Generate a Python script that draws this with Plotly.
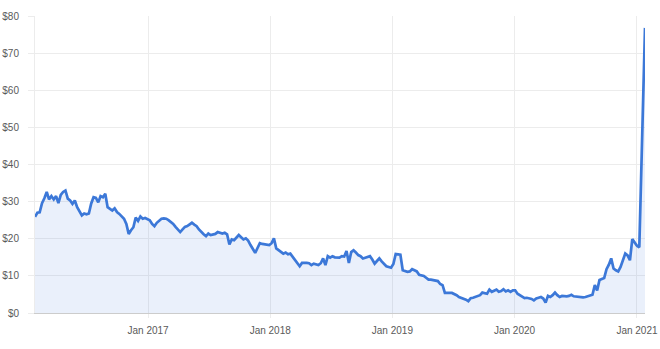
import pandas as pd
import plotly.graph_objects as go

# Weekly closing prices (Fridays), starting 2016-01-29
start_date = "2016-01-29"
final_date = "2021-01-25"
final_value = 76.8

vals_2016 = [25.9, 27.0, 27.1, 29.6, 30.9, 32.6, 30.6, 31.5, 30.6, 31.5,
             29.6, 31.8, 32.6, 33.0, 30.8, 30.3, 29.4, 30.3, 28.5, 27.4,
             26.3, 26.8, 26.6, 26.8, 29.5, 31.2, 31.0, 29.8, 31.5, 31.2,
             32.1, 28.5, 28.1, 27.6, 28.2, 27.2, 26.7, 26.0, 25.4, 24.0,
             21.3, 22.3, 23.1, 25.7, 24.8, 26.0, 25.4, 25.6, 25.2]
vals_2017 = [25.0, 24.0, 23.4, 24.3, 24.8, 25.4, 25.5, 25.4, 25.0, 24.5,
             24.0, 23.2, 22.5, 21.8, 22.5, 23.2, 23.4, 23.9, 24.3, 23.8,
             23.4, 22.5, 21.8, 21.2, 20.7, 21.4, 21.0, 21.2, 21.3, 21.8,
             21.6, 21.4, 21.6, 21.2, 18.5, 19.8, 19.6, 20.3, 21.0, 20.4,
             19.8, 20.1, 19.5, 18.3, 17.2, 16.2, 17.5, 18.8, 18.6, 18.5,
             18.4, 18.3]
vals_2018 = [18.8, 20.1, 17.4, 17.0, 16.5, 16.0, 16.3, 15.8, 16.0, 15.1,
             14.2, 13.2, 12.6, 13.5, 13.6, 13.5, 13.4, 12.9, 13.3, 13.0,
             12.9, 13.4, 14.7, 12.9, 15.3, 14.9, 15.3, 15.0, 14.9, 14.9,
             15.3, 15.2, 16.7, 13.5, 16.4, 16.9, 16.3, 15.6, 15.3, 14.7,
             14.9, 15.0, 15.3, 14.4, 13.3, 14.0, 14.7, 13.9, 13.3, 12.6,
             12.4, 12.2]
vals_2019 = [13.2, 15.9, 15.8, 15.7, 11.5, 11.3, 11.1, 11.2, 11.8, 11.5,
             11.2, 10.3, 10.1, 10.0, 9.5, 9.0, 9.0, 8.9, 8.7, 8.6,
             7.8, 7.5, 5.4, 5.5, 5.4, 5.4, 5.2, 4.8, 4.3, 4.1,
             3.9, 3.6, 3.2, 4.0, 4.1, 4.3, 4.6, 4.8, 5.5, 5.3,
             5.2, 6.3, 5.7, 6.0, 6.3, 5.7, 5.9, 6.4, 5.8, 6.1,
             5.7, 6.1]
vals_2020 = [6.1, 5.2, 4.8, 4.6, 4.0, 4.1, 4.0, 3.8, 3.4, 3.9,
             4.1, 4.3, 3.9, 2.8, 4.6, 4.3, 4.8, 5.5, 4.8, 4.3,
             4.6, 4.5, 4.5, 4.6, 4.9, 4.5, 4.4, 4.3, 4.3, 4.2,
             4.3, 4.5, 4.7, 4.9, 7.5, 6.1, 8.9, 9.1, 9.4, 11.8,
             13.0, 14.7, 12.0, 11.5, 11.2, 12.4, 14.2, 16.0, 15.5, 14.2,
             19.9, 18.8, 18.1, 17.7]

y_ticks = [0, 10, 20, 30, 40, 50, 60, 70, 80]
y_tick_labels = ["$0", "$10", "$20", "$30", "$40", "$50", "$60", "$70", "$80"]
x_ticks = ["2017-01-01", "2018-01-01", "2019-01-01", "2020-01-01", "2021-01-01"]
x_tick_labels = ["Jan 2017", "Jan 2018", "Jan 2019", "Jan 2020", "Jan 2021"]

values = vals_2016 + vals_2017 + vals_2018 + vals_2019 + vals_2020 + [final_value]
weekly = list(pd.date_range(start_date, periods=len(values) - 1, freq="7D"))
dates = weekly + [pd.Timestamp(final_date)]

fig = go.Figure()
fig.add_trace(go.Scatter(
    x=dates, y=values, mode="lines",
    line=dict(color="#3c78d8", width=2.7),
    fill="tozeroy", fillcolor="rgba(60,120,216,0.11)",
    hoverinfo="skip", showlegend=False,
))

fig.update_layout(
    width=660, height=349,
    margin=dict(l=35, r=15, t=16, b=36),
    paper_bgcolor="white", plot_bgcolor="white",
    font=dict(family="Arial, Liberation Sans, sans-serif", size=10, color="#5a5a5a"),
    xaxis=dict(
        range=[start_date, final_date],
        tickvals=x_ticks, ticktext=x_tick_labels,
        showgrid=True, gridcolor="#ececec", gridwidth=1,
        showline=True, linecolor="#cccccc", linewidth=1,
        ticks="outside", ticklen=4, tickcolor="#ececec",
        ticklabelstandoff=4,
        zeroline=False, fixedrange=True, automargin=False,
    ),
    yaxis=dict(
        range=[0, 80],
        tickvals=y_ticks, ticktext=y_tick_labels,
        showgrid=True, gridcolor="#ececec", gridwidth=1,
        showline=True, linecolor="#ececec", linewidth=1,
        ticks="outside", ticklen=6, tickcolor="#ececec",
        ticklabelstandoff=7,
        zeroline=False, fixedrange=True, automargin=False,
    ),
)

fig.write_html("out.html")
